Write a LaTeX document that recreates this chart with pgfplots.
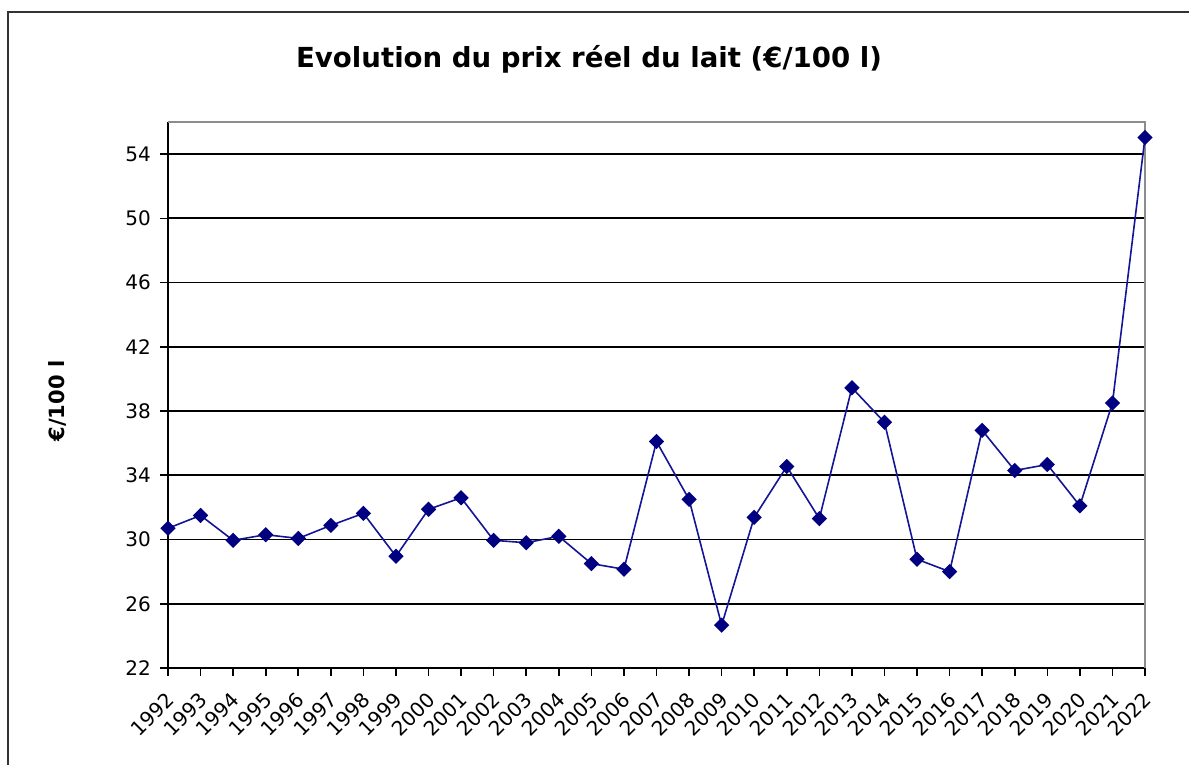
\documentclass[border=0pt]{standalone}
\usepackage{pgfplots}
\pgfplotsset{compat=1.18}
\usepackage{fontspec}
\setmainfont{DejaVu Sans}
\definecolor{navyline}{RGB}{20,20,150}
\definecolor{navymark}{RGB}{0,0,128}
\pgfplotstableread{
x y
0 30.70
1 31.50
2 29.95
3 30.30
4 30.07
5 30.88
6 31.63
7 28.96
8 31.88
9 32.60
10 29.95
11 29.80
12 30.20
13 28.50
14 28.15
15 36.10
16 32.50
17 24.67
18 31.38
19 34.55
20 31.30
21 39.45
22 37.30
23 28.77
24 28.00
25 36.80
26 34.30
27 34.67
28 32.10
29 38.50
30 55.04
}\milk
\begin{document}
\begin{tikzpicture}
\useasboundingbox (0,0) rectangle (594.5pt,382.5pt);
\draw[line width=1pt, black!80] (4pt,-2pt) -- (4pt,376.5pt) -- (600pt,376.5pt);
\node[font=\bfseries\fontsize{13.8}{16}\selectfont] at (294.5pt,353pt) {Evolution du prix réel du lait (€/100 l)};
\node[font=\bfseries\fontsize{10.5}{12}\selectfont, rotate=90] at (28.5pt,182pt) {€/100 l};
\begin{axis}[
  at={(84pt,48.5pt)}, anchor=south west,
  scale only axis, width=488.5pt, height=273pt,
  xmin=0, xmax=30, ymin=22, ymax=56,
  axis x line*=bottom, axis y line*=left,
  axis line style={black, line width=1pt},
  xtick=data,
  xticklabels={1992,1993,1994,1995,1996,1997,1998,1999,2000,2001,2002,2003,2004,2005,2006,2007,2008,2009,2010,2011,2012,2013,2014,2015,2016,2017,2018,2019,2020,2021,2022},
  ytick={22,26,30,34,38,42,46,50,54},
  ymajorgrids, grid style={black, line width=0.9pt},
  tick style={black, line width=0.8pt},
  tick align=outside,
  major tick length=4pt,
  xticklabel style={rotate=45, anchor=north east, inner sep=1pt, xshift=-5pt, yshift=-3pt, font=\fontsize{10}{12}\selectfont},
  yticklabel style={font=\fontsize{10}{12}\selectfont, xshift=-1pt},
  /pgf/number format/assume math mode=true,
  clip=false,
]
\draw[black!45, line width=1pt] (rel axis cs:0,1) -- (rel axis cs:1,1) -- (rel axis cs:1,0);
\addplot[navyline, line width=0.8pt, mark=square*, mark size=2.3pt,
  mark options={rotate=45, fill=navymark, draw=navymark, solid}] table[x=x,y=y] {\milk};
\end{axis}
\end{tikzpicture}
\end{document}
